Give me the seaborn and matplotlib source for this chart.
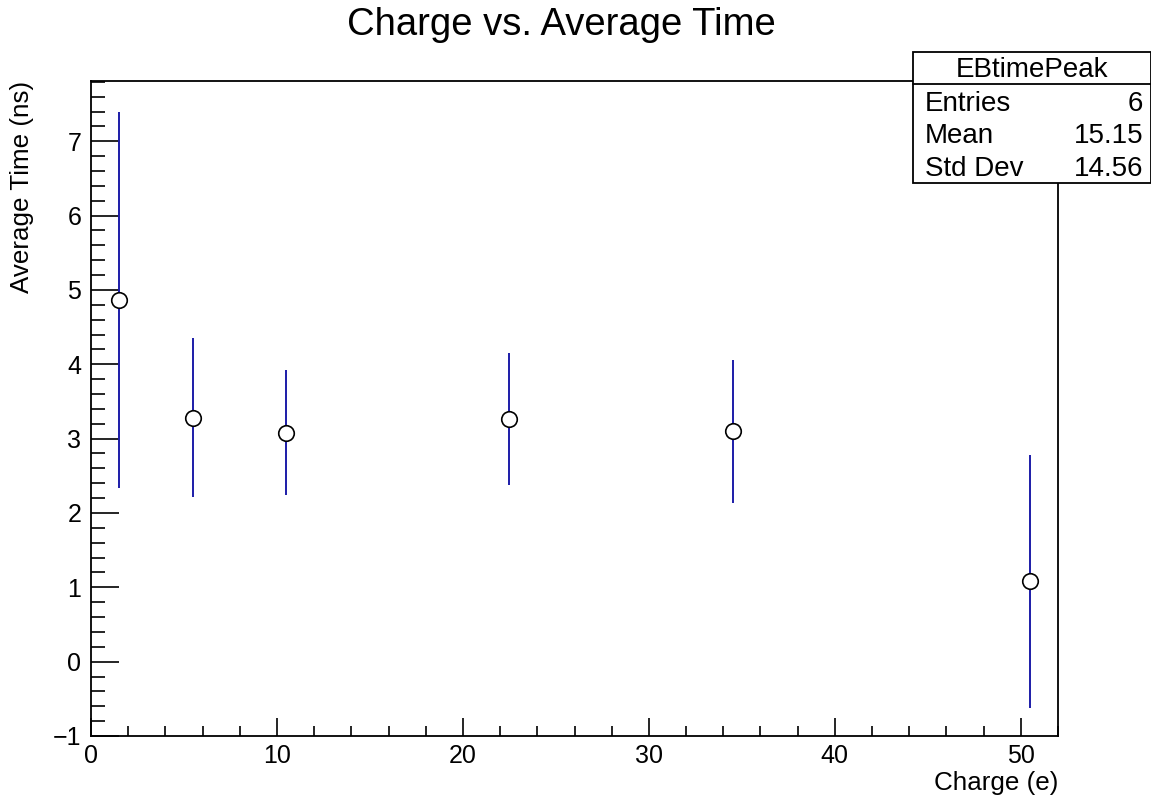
import numpy as np
import pandas as pd
import matplotlib
matplotlib.use("Agg")
import matplotlib.pyplot as plt
from matplotlib.patches import Rectangle
from matplotlib.lines import Line2D
from matplotlib.ticker import MultipleLocator
import seaborn as sns

# ---- data ----
charge = [1.5, 5.5, 10.5, 22.5, 34.5, 50.5]
avg_time = [4.87, 3.28, 3.08, 3.26, 3.10, 1.08]
time_err = [2.53, 1.07, 0.84, 0.89, 0.96, 1.70]

title = "Charge vs. Average Time"
xlabel = "Charge (e)"
ylabel = "Average Time (ns)"
stats_name = "EBtimePeak"
stats_rows = [("Entries", "6"), ("Mean", "15.15"), ("Std Dev", "14.56")]

sns.set_theme(style="ticks")
plt.rcParams["font.family"] = ["Liberation Sans", "DejaVu Sans"]
plt.rcParams["text.color"] = "black"
plt.rcParams["xtick.color"] = "black"
plt.rcParams["ytick.color"] = "black"

df = pd.DataFrame({"charge": charge, "time": avg_time, "err": time_err})

fig = plt.figure(figsize=(11.51, 7.96), dpi=100)
fig.patch.set_facecolor("white")
ax = fig.add_axes([0.0791, 0.0754, 0.9192 - 0.0791, 0.8982 - 0.0754])
ax.set_facecolor("white")

ax.errorbar(df["charge"], df["time"], yerr=df["err"], fmt="none",
            ecolor="#1c1ca8", elinewidth=1.4, capsize=0, zorder=2)
sns.scatterplot(data=df, x="charge", y="time", ax=ax, marker="o", s=125,
                facecolor="white", edgecolor="black", linewidth=1.2,
                zorder=3, legend=False)

ax.set_xlim(0, 52)
ax.set_ylim(-1, 7.81)
ax.xaxis.set_major_locator(MultipleLocator(10))
ax.xaxis.set_minor_locator(MultipleLocator(2))
ax.yaxis.set_major_locator(MultipleLocator(1))
ax.yaxis.set_minor_locator(MultipleLocator(0.2))

for s in ax.spines.values():
    s.set_color("black")
    s.set_linewidth(1.3)

ax.tick_params(axis="both", which="both", direction="in", colors="black",
               labelcolor="black", top=False, right=False, labelsize=18, width=1.2)
ax.tick_params(axis="y", which="major", length=20, pad=7)
ax.tick_params(axis="y", which="minor", length=10)
ax.tick_params(axis="x", which="major", length=13, pad=6)
ax.tick_params(axis="x", which="minor", length=7)

ax.set_xlabel("")
ax.set_ylabel("")
H = 796.0
W = 1151.0
fig.text(0.9192, 1 - 790 / H, xlabel, ha="right", va="baseline", fontsize=18.7)
fig.text(22 / W, 0.8982, ylabel, ha="center", va="top", rotation=90, fontsize=18.7)
fig.text(561 / W, 1 - 35 / H, title, ha="center", va="baseline", fontsize=27.5)

# stats box
x0, x1 = 913 / W, 1.0
y0, y1 = 1 - 183 / H, 1 - 52 / H
ydiv = 1 - 84 / H
box = Rectangle((x0, y0), x1 - x0, y1 - y0, transform=fig.transFigure,
                facecolor="white", edgecolor="black", linewidth=1.3, zorder=10)
fig.add_artist(box)
fig.add_artist(Line2D([x0, x1], [ydiv, ydiv], transform=fig.transFigure,
                      color="black", linewidth=1.3, zorder=11))
fig.text(1032 / W, 1 - 77 / H, stats_name, ha="center", va="baseline",
         fontsize=20, zorder=12)
row_base = [111, 143, 176]
for (lab, val), yy in zip(stats_rows, row_base):
    fig.text(925 / W, 1 - yy / H, lab, ha="left", va="baseline", fontsize=20, zorder=12)
    fig.text(1143 / W, 1 - yy / H, val, ha="right", va="baseline", fontsize=20, zorder=12)

fig.savefig("out.png", dpi=100, facecolor="white")
